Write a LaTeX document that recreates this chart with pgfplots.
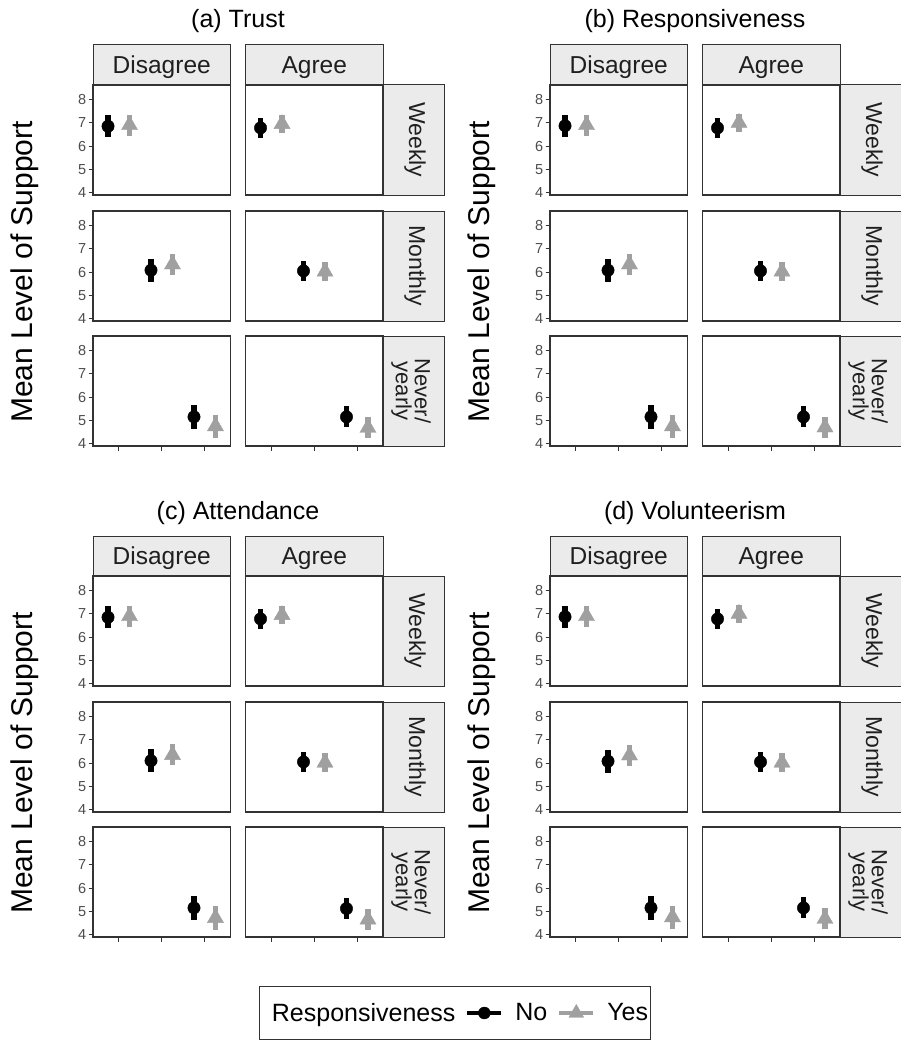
\documentclass[border=0pt]{standalone}
\usepackage{pgfplots}
\pgfplotsset{compat=1.18}
\usepackage{fontspec}
\setmainfont{Liberation Sans}
\definecolor{g20}{HTML}{333333}
\definecolor{g30}{HTML}{4D4D4D}
\definecolor{g92}{HTML}{EBEBEB}
\definecolor{yesc}{HTML}{A0A0A0}

\pgfplotsset{
 facet/.style={anchor=north west, scale only axis, width=137.5pt, height=110pt,
   xmin=0.4, xmax=3.6, ymin=3.9, ymax=8.62,
   axis line style={draw=g20, line width=1.3pt},
   tick style={draw=g20, line width=0.9pt}, major tick length=4.5pt, tick align=outside,
   xtick pos=bottom, ytick pos=left, xtick=\empty, ytick=\empty,
   /pgf/number format/assume math mode=true,
   yticklabel style={font=\fontsize{14.5}{14.5}\selectfont, text=g30, inner sep=1.5pt, xshift=-0.5pt}},
 lefty/.style={ytick={4,5,6,7,8}},
 botx/.style={xtick={1,2,3}, xticklabels={,,}},
 nopt/.style={black, only marks, mark=*, mark size=6.2pt,
   error bars/.cd, y dir=both, y explicit, error mark=none,
   error bar style={line width=5.5pt, black}},
 yespt/.style={yesc, only marks, mark=triangle*, mark size=9.3pt,
   mark options={draw=yesc, fill=yesc},
   error bars/.cd, y dir=both, y explicit, error mark=none,
   error bar style={line width=5.5pt, yesc}},
 lineleg/.style={legend image code/.code={\draw[mark repeat=2, mark phase=2, ##1] plot coordinates {(0pt,0pt) (17pt,0pt) (34pt,0pt)};}},
}

% one facet: #1 x, #2 y (tikz), #3 options, #4 No coords, #5 Yes coords
\newcommand\cell[5]{%
 \begin{axis}[facet, at={(#1,#2)}, #3]
 \addplot[nopt] coordinates {#4};
 \addplot[yespt] coordinates {#5};
 \end{axis}}

% strips, title, y label for a group at offset #1,#2 (px)
\newcommand\group[3]{%
 \foreach \xx/\lab in {93/Disagree, 245.5/Agree} {
   \draw[fill=g92, draw=g20, line width=1pt] (\xx pt+#1pt, -45pt-#2pt) rectangle ++(137.5pt,-40pt);
   \node[anchor=base, font=\fontsize{24.5}{24.5}\selectfont, text=black!88] at (\xx pt+#1pt+68.75pt, -73.5pt-#2pt) {\lab};
 }
 \foreach \yy in {85, 211, 336} {
   \draw[fill=g92, draw=g20, line width=1pt] (383pt+#1pt, -\yy pt-#2pt) rectangle ++(61pt,-110pt);
 }
 \node[rotate=-90, font=\fontsize{23}{23}\selectfont, text=black!88] at (415pt+#1pt, -140pt-#2pt) {Weekly};
 \node[rotate=-90, font=\fontsize{23}{23}\selectfont, text=black!88] at (415pt+#1pt, -266pt-#2pt) {Monthly};
 \node[rotate=-90, align=center, font=\fontsize{22}{19}\selectfont, text=black!88] at (411pt+#1pt, -391pt-#2pt) {Never/\\yearly};
 \node[anchor=base, font=\fontsize{25}{25}\selectfont] at (238pt+#1pt, -28pt-#2pt) {#3};
 \node[rotate=90, anchor=base, font=\fontsize{30}{30}\selectfont] at (32pt+#1pt, -272pt-#2pt) {Mean Level of Support};
}

\begin{document}
\begin{tikzpicture}
\useasboundingbox (0,0) rectangle (901pt,-1043pt);

% ---------------- (a) Trust
\group{0}{0}{(a) Trust}
\cell{93pt}{-85pt}{lefty}{(0.75,6.85) +- (0,0.48)}{(1.25,6.90) +- (0,0.45)}
\cell{245.5pt}{-85pt}{}{(0.75,6.78) +- (0,0.42)}{(1.25,6.95) +- (0,0.38)}
\cell{93pt}{-211pt}{lefty}{(1.75,6.08) +- (0,0.50)}{(2.25,6.33) +- (0,0.45)}
\cell{245.5pt}{-211pt}{}{(1.75,6.05) +- (0,0.42)}{(2.25,6.02) +- (0,0.40)}
\cell{93pt}{-336pt}{lefty,botx}{(2.75,5.15) +- (0,0.50)}{(3.25,4.75) +- (0,0.50)}
\cell{245.5pt}{-336pt}{botx}{(2.75,5.15) +- (0,0.45)}{(3.25,4.68) +- (0,0.45)}

% ---------------- (b) Responsiveness
\group{457}{0}{(b) Responsiveness}
\cell{550pt}{-85pt}{lefty}{(0.75,6.87) +- (0,0.48)}{(1.25,6.90) +- (0,0.45)}
\cell{702.5pt}{-85pt}{}{(0.75,6.78) +- (0,0.42)}{(1.25,7.00) +- (0,0.38)}
\cell{550pt}{-211pt}{lefty}{(1.75,6.08) +- (0,0.50)}{(2.25,6.33) +- (0,0.45)}
\cell{702.5pt}{-211pt}{}{(1.75,6.05) +- (0,0.42)}{(2.25,6.02) +- (0,0.40)}
\cell{550pt}{-336pt}{lefty,botx}{(2.75,5.15) +- (0,0.50)}{(3.25,4.75) +- (0,0.50)}
\cell{702.5pt}{-336pt}{botx}{(2.75,5.15) +- (0,0.45)}{(3.25,4.70) +- (0,0.45)}

% ---------------- (c) Attendance
\group{0}{491}{(c) Attendance}
\cell{93pt}{-576pt}{lefty}{(0.75,6.85) +- (0,0.48)}{(1.25,6.90) +- (0,0.45)}
\cell{245.5pt}{-576pt}{}{(0.75,6.78) +- (0,0.42)}{(1.25,6.95) +- (0,0.38)}
\cell{93pt}{-702pt}{lefty}{(1.75,6.10) +- (0,0.50)}{(2.25,6.35) +- (0,0.45)}
\cell{245.5pt}{-702pt}{}{(1.75,6.05) +- (0,0.42)}{(2.25,6.02) +- (0,0.40)}
\cell{93pt}{-827pt}{lefty,botx}{(2.75,5.15) +- (0,0.50)}{(3.25,4.72) +- (0,0.50)}
\cell{245.5pt}{-827pt}{botx}{(2.75,5.12) +- (0,0.45)}{(3.25,4.65) +- (0,0.45)}

% ---------------- (d) Volunteerism
\group{457}{491}{(d) Volunteerism}
\cell{550pt}{-576pt}{lefty}{(0.75,6.87) +- (0,0.48)}{(1.25,6.90) +- (0,0.45)}
\cell{702.5pt}{-576pt}{}{(0.75,6.78) +- (0,0.42)}{(1.25,7.00) +- (0,0.38)}
\cell{550pt}{-702pt}{lefty}{(1.75,6.08) +- (0,0.50)}{(2.25,6.33) +- (0,0.45)}
\cell{702.5pt}{-702pt}{}{(1.75,6.05) +- (0,0.42)}{(2.25,6.02) +- (0,0.40)}
\cell{550pt}{-827pt}{lefty,botx}{(2.75,5.15) +- (0,0.50)}{(3.25,4.75) +- (0,0.50)}
\cell{702.5pt}{-827pt}{botx}{(2.75,5.15) +- (0,0.45)}{(3.25,4.68) +- (0,0.45)}

% ---------------- legend
\begin{axis}[hide axis, scale only axis, width=10pt, height=10pt,
  xmin=0, xmax=1, ymin=0, ymax=1, at={(455pt,-1013pt)}, anchor=center,
  legend columns=3,
  legend style={at={(0.5,0.5)}, anchor=center, draw=g20, line width=1pt,
    font=\fontsize{25}{25}\selectfont, inner xsep=0pt, inner ysep=15pt,
    /tikz/every odd column/.append style={column sep=10pt},
    /tikz/every even column/.append style={column sep=8pt}},
  legend cell align=left]
\addlegendimage{empty legend}
\addlegendentry{Responsiveness}
\addlegendimage{black, line width=4pt, mark=*, mark size=6pt, mark options={solid, line width=0.4pt}, lineleg}
\addlegendentry{No}
\addlegendimage{yesc, line width=4pt, mark=triangle*, mark size=8.5pt, mark options={solid, line width=0.4pt}, lineleg}
\addlegendentry{Yes}
\end{axis}
\end{tikzpicture}
\end{document}
